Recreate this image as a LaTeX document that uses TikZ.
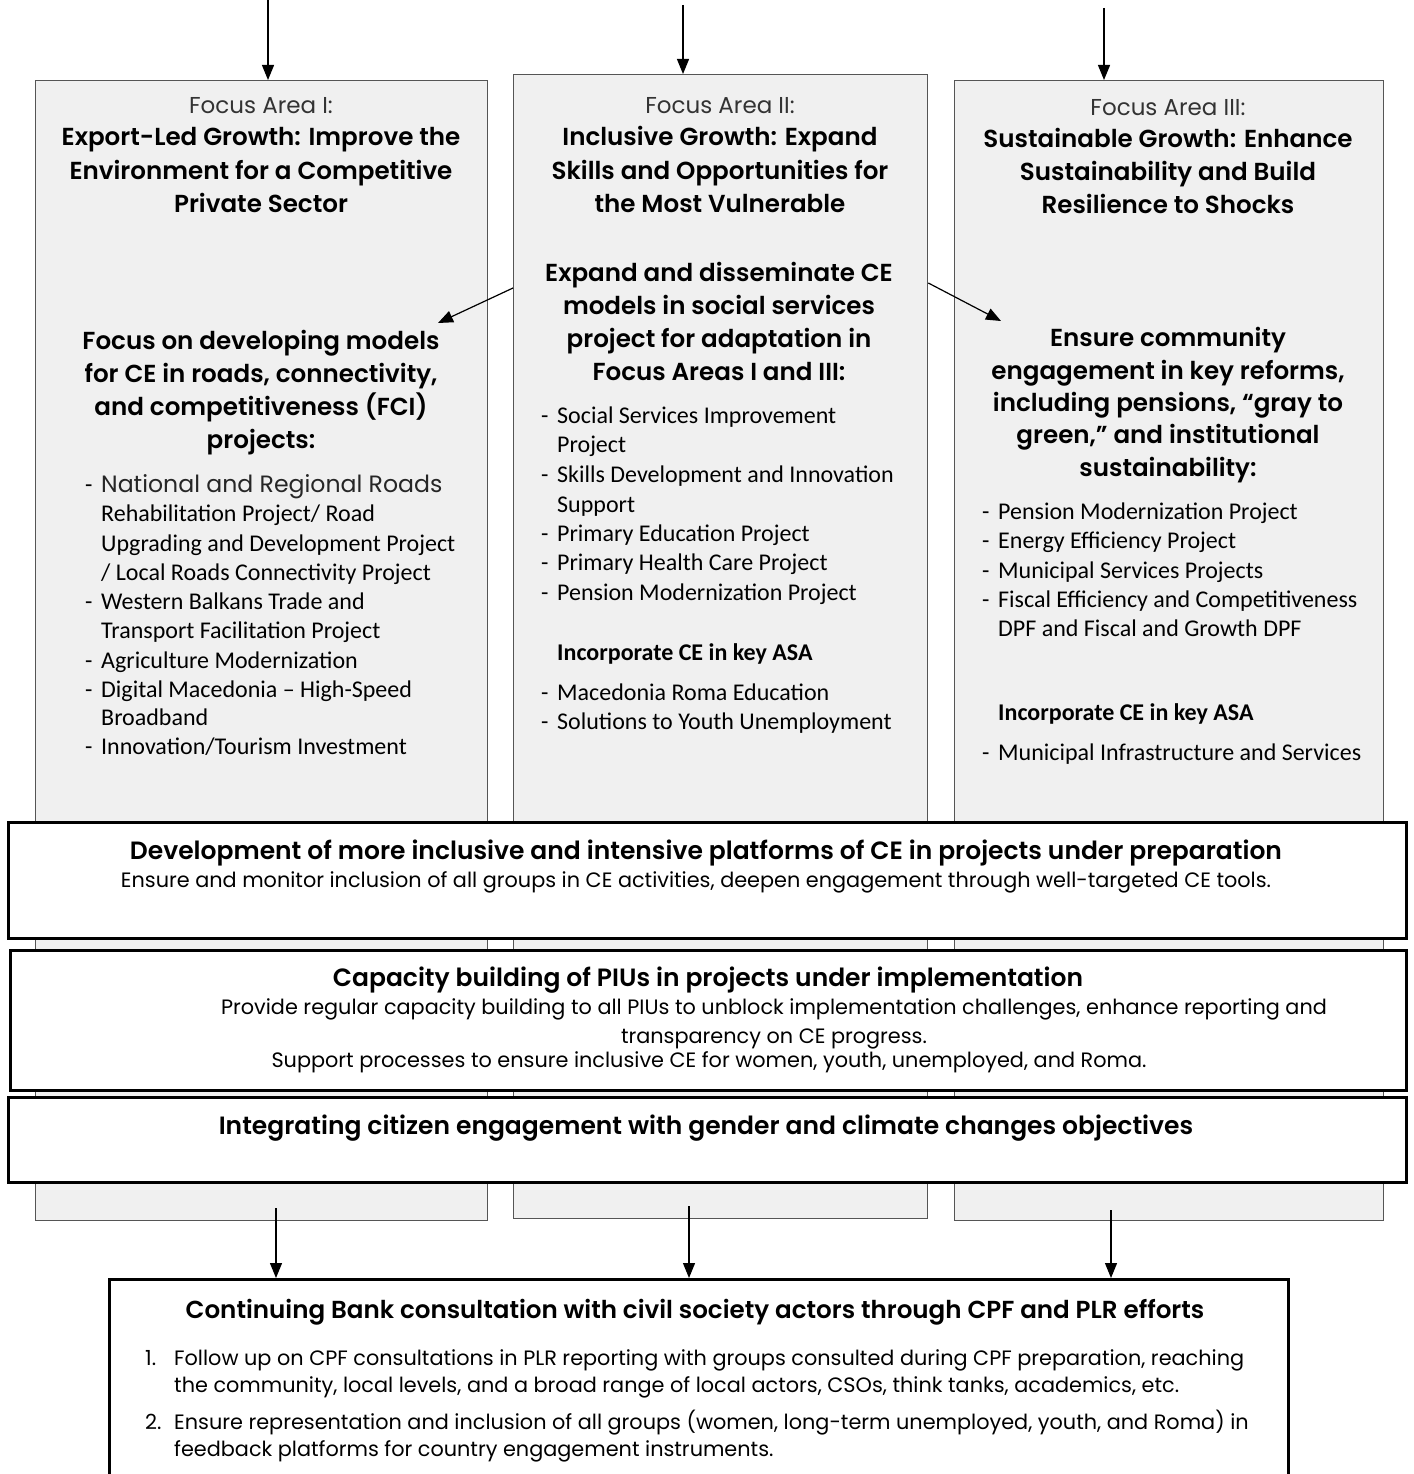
\documentclass[tikz,border=0pt]{standalone}
\usepackage{fontspec}
\setmainfont{Carlito}
\newfontfamily\gothic{Poppins}
\newfontfamily\gothicm{Poppins SemiBold}
\usetikzlibrary{arrows.meta}
\definecolor{colfill}{HTML}{F0F0F0}
\definecolor{colline}{HTML}{555555}
\newcommand{\Ln}[4]{\node[li] (#1) at (#2,#3) {#4};}
\begin{document}
\begin{tikzpicture}[x=1pt,y=-1pt,
  col/.style={draw=colline, line width=1.3pt, fill=colfill, inner sep=0, anchor=north west},
  band/.style={draw=black, line width=3pt, fill=white, inner sep=0, anchor=north west},
  arr/.style={-{Triangle[length=15pt,width=12pt]}, line width=1.2pt},
  fa/.style={font=\gothic\fontsize{23}{28}\selectfont, text=black!80, inner sep=0, anchor=base},
  ttl/.style={font=\gothicm\fontsize{24.6}{33}\selectfont, inner sep=0, anchor=base},
  li/.style={font=\fontsize{24}{29}\selectfont, inner sep=0, anchor=base west},
  asa/.style={li, font=\bfseries\fontsize{24}{29}\selectfont},
  btitle/.style={font=\gothicm\fontsize{25}{30}\selectfont, inner sep=0, anchor=base},
  btext/.style={font=\gothic\fontsize{20.8}{26}\selectfont, inner sep=0, anchor=base},
  btextl/.style={btext, anchor=base west}
]
\useasboundingbox (0,0) rectangle (1413,1474);
\clip (0,0) rectangle (1413,1474);

% columns
\node[col, minimum width=452, minimum height=1140] (c1) at (35,80) {};
\node[col, minimum width=414, minimum height=1144] (c2) at (513,74) {};
\node[col, minimum width=429, minimum height=1140] (c3) at (954,80) {};

% top arrows
\coordinate (t1) at (268,0);
\coordinate (t2) at (683,5);
\coordinate (t3) at (1104,8);
\draw[arr] (t1) -- (t1 |- c1.north);
\draw[arr] (t2) -- (t2 |- c2.north);
\draw[arr] (t3) -- (t3 |- c3.north);

% column 1 text
\node[fa] (f1) at (261,114) {Focus Area I:};
\node[ttl] (h1a) at (261,146) {Export-Led Growth: Improve the};
\node[ttl] (h1b) at (261,179) {Environment for a Competitive};
\node[ttl] (h1c) at (261,212) {Private Sector};
\node[ttl] (s1a) at (261,349) {Focus on developing models};
\node[ttl] (s1b) at (261,382) {for CE in roads, connectivity,};
\node[ttl] (s1c) at (261,415) {and competitiveness (FCI)};
\node[ttl] (s1d) at (261,448) {projects:};
\foreach \yy/\nm in {492/a,609/b,668/c,697/d,754/e} \node[li] (d1\nm) at (85,\yy) {-};
\node[li, font=\gothic\fontsize{23.6}{29}\selectfont, text=black!85] (l1a) at (101,492) {National and Regional Roads};
\Ln{l1b}{101}{521}{Rehabilitation Project/ Road}
\Ln{l1c}{101}{551}{Upgrading and Development Project}
\Ln{l1d}{101}{580}{/ Local Roads Connectivity Project}
\Ln{l1e}{101}{609}{Western Balkans Trade and}
\Ln{l1f}{101}{638}{Transport Facilitation Project}
\Ln{l1g}{101}{668}{Agriculture Modernization}
\Ln{l1h}{101}{697}{Digital Macedonia -- High-Speed}
\Ln{l1i}{101}{725}{Broadband}
\Ln{l1j}{101}{754}{Innovation/Tourism Investment}

% column 2 text
\node[fa] (f2) at (720,114) {Focus Area II:};
\node[ttl] (h2a) at (720,146) {Inclusive Growth: Expand};
\node[ttl] (h2b) at (720,179) {Skills and Opportunities for};
\node[ttl] (h2c) at (720,212) {the Most Vulnerable};
\node[ttl] (s2a) at (719,281) {Expand and disseminate CE};
\node[ttl] (s2b) at (719,314) {models in social services};
\node[ttl] (s2c) at (719,347) {project for adaptation in};
\node[ttl] (s2d) at (719,380) {Focus Areas I and III:};
\foreach \yy/\nm in {423/a,482/b,541/c,570/d,600/e,700/f,729/g} \node[li] (d2\nm) at (541,\yy) {-};
\Ln{l2a}{557}{423}{Social Services Improvement}
\Ln{l2b}{557}{452}{Project}
\Ln{l2c}{557}{482}{Skills Development and Innovation}
\Ln{l2d}{557}{512}{Support}
\Ln{l2e}{557}{541}{Primary Education Project}
\Ln{l2f}{557}{570}{Primary Health Care Project}
\Ln{l2g}{557}{600}{Pension Modernization Project}
\node[asa] (a2) at (557,660) {Incorporate CE in key ASA};
\Ln{l2h}{557}{700}{Macedonia Roma Education}
\Ln{l2i}{557}{729}{Solutions to Youth Unemployment}

% column 3 text
\node[fa] (f3) at (1168,116) {Focus Area III:};
\node[ttl] (h3a) at (1168,148) {Sustainable Growth: Enhance};
\node[ttl] (h3b) at (1168,181) {Sustainability and Build};
\node[ttl] (h3c) at (1168,214) {Resilience to Shocks};
\node[ttl] (s3a) at (1168,346) {Ensure community};
\node[ttl] (s3b) at (1168,379) {engagement in key reforms,};
\node[ttl] (s3c) at (1168,411) {including pensions, “gray to};
\node[ttl] (s3d) at (1168,443) {green,” and institutional};
\node[ttl] (s3e) at (1168,476) {sustainability:};
\foreach \yy/\nm in {519/a,548/b,578/c,607/d,760/e} \node[li] (d3\nm) at (982,\yy) {-};
\Ln{l3a}{998}{519}{Pension Modernization Project}
\Ln{l3b}{998}{548}{Energy Efficiency Project}
\Ln{l3c}{998}{578}{Municipal Services Projects}
\Ln{l3d}{998}{607}{Fiscal Efficiency and Competitiveness}
\Ln{l3e}{998}{636}{DPF and Fiscal and Growth DPF}
\node[asa] (a3) at (998,720) {Incorporate CE in key ASA};
\Ln{l3f}{998}{760}{Municipal Infrastructure and Services}

% diagonal arrows
\coordinate (e1) at (438,323);
\coordinate (e3) at (1001,321);
\draw[arr] (c2.west |- 0,288) -- (e1);
\draw[arr] (c2.east |- 0,283) -- (e3);

% bands
\node[band, minimum width=1398, minimum height=116] (bA) at (7,821) {};
\node[band, minimum width=1396, minimum height=140] (bB) at (9,949) {};
\node[band, minimum width=1398, minimum height=85] (bC) at (7,1096) {};
\node[btitle] (bAt) at (706,859) {Development of more inclusive and intensive platforms of CE in projects under preparation};
\node[btext] (bAs) at (696,887) {Ensure and monitor inclusion of all groups in CE activities, deepen engagement through well-targeted CE tools.};
\node[btitle] (bBt) at (708,986) {Capacity building of PIUs in projects under implementation};
\node[btext] (bBs1) at (774,1014) {Provide regular capacity building to all PIUs to unblock implementation challenges, enhance reporting and};
\node[btext] (bBs2) at (774,1043) {transparency on CE progress.};
\node[btext] (bBs3) at (709,1067) {Support processes to ensure inclusive CE for women, youth, unemployed, and Roma.};
\node[btitle] (bCt) at (706,1134) {Integrating citizen engagement with gender and climate changes objectives};

% bottom box
\node[band, minimum width=1179, minimum height=260] (fb) at (108,1278) {};
\coordinate (b1) at (276,1208);
\coordinate (b2) at (689,1206);
\coordinate (b3) at (1111,1210);
\draw[arr] (b1) -- (b1 |- fb.north);
\draw[arr] (b2) -- (b2 |- fb.north);
\draw[arr] (b3) -- (b3 |- fb.north);
\node[btitle, font=\gothicm\fontsize{24.6}{30}\selectfont] (fbt) at (695,1318) {Continuing Bank consultation with civil society actors through CPF and PLR efforts};
\node[btextl] (n1) at (145,1365) {1.};
\node[btextl] (n1a) at (174,1365) {Follow up on CPF consultations in PLR reporting with groups consulted during CPF preparation, reaching};
\node[btextl] (n1b) at (174,1392) {the community, local levels, and a broad range of local actors, CSOs, think tanks, academics, etc.};
\node[btextl] (n2) at (145,1429) {2.};
\node[btextl] (n2a) at (174,1429) {Ensure representation and inclusion of all groups (women, long-term unemployed, youth, and Roma) in};
\node[btextl] (n2b) at (174,1456) {feedback platforms for country engagement instruments.};
\end{tikzpicture}
\end{document}
